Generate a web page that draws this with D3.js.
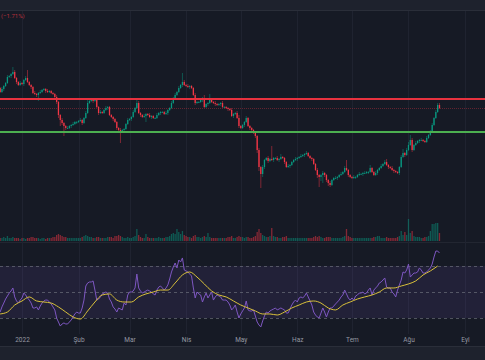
<!DOCTYPE html>
<html><head><meta charset="utf-8">
<script src="https://cdn.jsdelivr.net/npm/d3@7"></script>
<style>html,body{margin:0;padding:0;background:#161a25;overflow:hidden}svg{display:block}</style>
</head><body><svg id="c" width="485" height="360"></svg>
<script>
// ---------- DATA ----------
const startDate = "2021-12-20";
const firstOpen = 16.2;
const closes = [
15.8,16.1,16.4,16.7,17.3,17.4,17.6,17.8,17.2,16.8,
16.5,16.7,16.6,17.0,17.2,16.8,16.5,16.3,15.7,15.6,
15.5,15.7,15.8,16.0,16.1,15.9,15.8,15.9,15.7,15.6,
15.3,14.8,13.5,13.0,12.7,12.4,12.2,12.2,12.4,12.5,
12.6,12.8,12.8,12.9,13.0,12.7,13.2,13.7,14.7,14.9,
15.0,14.9,15.0,14.3,13.7,13.8,13.7,14.0,14.2,14.3,
13.5,13.3,13.1,12.8,12.2,12.0,11.9,12.0,12.1,12.6,
13.0,13.1,13.3,13.8,14.2,14.7,13.7,13.5,13.3,13.4,
13.6,13.5,13.3,13.4,13.2,13.2,13.5,13.7,13.8,13.8,
13.6,13.7,14.0,14.2,14.7,15.2,15.5,15.8,16.2,16.5,
16.8,16.5,16.4,16.3,16.4,16.2,15.5,14.7,14.8,14.8,
15.0,15.2,14.3,14.6,14.7,15.0,14.8,14.7,14.6,14.5,
14.6,14.7,14.3,14.3,14.2,14.1,14.0,13.4,13.6,13.7,
13.2,12.4,12.2,12.5,12.8,13.2,12.4,12.2,12.0,11.7,
11.4,10.0,8.3,7.6,8.3,9.0,9.2,8.9,9.1,9.0,
9.2,9.2,9.0,9.1,9.3,9.2,8.8,8.3,8.4,8.5,
8.8,9.0,9.1,9.2,9.3,9.4,9.5,9.6,9.7,9.4,
9.2,9.1,8.6,8.0,7.5,7.3,7.5,7.7,7.5,7.0,
6.7,6.5,7.0,7.2,7.2,7.3,7.5,7.6,7.8,8.2,
8.0,7.5,7.3,7.2,7.3,7.3,7.5,7.6,7.6,7.7,
7.7,7.8,7.8,8.2,7.8,7.5,7.7,8.0,8.2,8.4,
8.6,8.8,8.5,8.3,8.2,8.0,7.9,7.8,7.7,8.3,
9.3,9.7,9.5,10.0,10.5,11.0,10.0,10.5,10.7,10.9,
11.0,11.0,10.9,10.8,11.2,11.5,11.9,12.5,13.2,13.8,
14.5,14.2];
const upWick = [
.1,.2,.1,.1,.2,.1,.1,.5,.2,.1, .1,.2,.1,.1,.2,.8,.1,.1,.1,.2,
.1,.1,.2,.1,.1,.1,.2,.1,.1,.1, .1,.2,.1,.1,.2,.1,.1,.2,.1,.1,
.2,.1,.1,.1,.2,.1,.1,.2,.3,.1, .2,.1,.1,.1,.1,.2,.1,.1,.2,.1,
.1,.1,.1,.1,.1,.1,.2,.1,.1,.1, .2,.1,.1,.2,.1,.3,.2,.1,.1,.2,
.1,.1,.2,.1,.1,.1,.2,.1,.1,.1, .1,.2,.1,.1,.2,.1,.2,.1,.2,.1,
.9,.2,.1,.2,.1,.1,.1,.2,.1,.1, .2,.1,.3,.1,.1,.6,.1,.1,.2,.1,
.1,.1,.2,.1,.1,.1,.1,.2,.1,.1, .2,.3,.1,.1,.1,.2,.1,.1,.1,.1,
.1,.1,.2,.1,.2,.1,.1,.2,.1,1.3, .1,.1,.2,.1,.3,.1,.1,.1,.2,.1,
.1,.1,.2,.1,.1,.2,.1,.1,.2,.1, .1,.1,.1,.1,.2,.1,.1,.2,.1,.1,
.1,.2,.1,.1,.2,.1,.1,.2,.1,.2, .8,.1,.1,.1,.2,.1,.1,.2,.1,.1,
.2,.1,.1,.3,.1,.1,.2,.1,.1,.2, .1,.2,.3,.1,.1,.2,.1,.1,.1,.1,
.2,.4,.1,.2,.3,.5,.2,.1,.2,.1, .1,.2,.1,.1,.2,.1,.1,.2,.1,.2,
.2,.2];
const dnWick = [
.1,.1,.2,.1,.1,.1,.2,.1,.1,.2, .1,.1,.1,.2,.1,.1,.1,.2,.1,.1,
.2,.6,.1,.1,.1,.2,.1,.1,.1,.1, .1,.2,.3,.6,.2,1.0,.2,.1,.1,.2,
.1,.1,.2,.1,.1,.2,.1,.1,.1,.1, .1,.2,.1,.1,.2,.1,.1,.1,.1,.2,
.1,.1,.2,.1,.2,.1,1.2,.2,.1,.1, .1,.1,.2,.1,.1,.1,.1,.2,.1,.1,
.6,.1,.1,.2,.1,.1,.1,.1,.2,.1, .1,.1,.2,.1,.1,.1,.2,.1,.1,.1,
.2,.1,.1,.1,.2,.1,.1,.2,.1,.1, .1,.2,.1,.1,.2,.1,.1,.1,.2,.1,
.1,.2,.1,.1,.1,.2,.1,.1,.2,.1, .1,.2,.1,.1,.2,.1,.1,.2,.1,.1,
.2,.3,.4,1.4,.3,.2,.1,.2,.1,.1, .2,.1,.1,.2,.1,.1,.2,.1,.1,.2,
.1,.1,.1,.2,.1,.1,.1,.2,.1,.1, .1,.2,.1,.1,.3,1.0,.4,.8,.2,.2,
.3,.2,.1,.1,.1,.2,.1,.1,.1,.1, .1,.2,.1,.1,.1,.2,.1,.1,.1,.2,
.1,.1,.2,.1,.1,.1,.1,.2,.1,.1, .1,.1,.1,.2,.1,.1,.2,.1,.1,.2,
.1,.1,.2,.1,.1,.1,.2,.1,.1,.1, .2,.1,.1,.1,.1,.1,.1,.1,.1,.1,
.1,.1];
const volumes = [
12,12,16,12,20,12,12,16,12,12, 12,8,12,12,8,12,12,16,16,12,
12,12,8,12,12,8,12,12,12,16, 16,24,28,24,20,16,16,12,12,12,
12,12,12,12,12,16,20,24,20,16, 16,12,12,16,16,12,12,12,12,16,
16,16,12,20,20,24,20,16,12,12, 16,12,12,16,20,48,24,16,12,12,
28,16,12,12,12,12,12,16,12,12, 12,16,16,20,28,32,28,48,36,28,
40,24,20,16,16,12,20,24,16,16, 12,16,20,16,32,16,12,12,12,12,
12,12,12,12,12,16,16,20,12,12, 16,20,16,16,12,16,16,12,12,16,
20,36,48,32,24,20,16,16,20,52, 20,16,16,12,12,16,16,20,12,12,
12,12,12,12,12,12,12,12,12,12, 12,12,16,20,16,20,16,12,12,16,
16,16,12,12,12,12,12,12,16,20, 48,20,16,12,12,12,12,12,12,12,
12,12,12,12,12,16,16,20,20,12, 12,12,16,12,12,12,12,12,16,20,
40,24,36,24,88,32,40,20,16,16, 16,12,12,16,16,20,40,68,68,72,
72,32];
const rsi = [
34.6,38.5,41.5,44.6,46.9,49.2,50.8,53.1,46.2,43.1,
41.5,43.8,45.4,49.2,47.7,45.4,43.8,41.5,37.7,37.7,
38.5,36.2,39.2,41.5,43.1,43.8,43.8,42.3,40.8,38.5,
36.2,30.0,26.9,23.8,25.4,26.2,25.4,25.4,26.9,28.5,
30.8,33.1,34.6,33.8,33.8,37.7,43.8,54.6,56.9,57.7,
57.7,58.5,51.5,43.8,44.6,46.2,48.5,49.2,50.0,49.2,
44.6,42.3,38.5,36.9,34.6,37.7,36.9,36.2,41.5,40.0,
47.7,50.0,50.0,50.8,53.1,63.8,53.1,50.8,49.2,50.0,
50.8,51.5,50.8,50.0,48.5,47.7,51.5,53.8,54.6,53.1,
51.5,53.1,55.4,60.0,65.4,69.2,72.3,68.5,74.6,73.1,
76.2,66.9,66.2,65.4,63.8,62.3,53.1,45.4,50.0,48.5,
47.7,42.3,46.2,49.2,45.4,47.7,50.0,43.8,46.2,47.7,
46.9,46.2,43.8,43.8,43.8,42.3,40.0,36.2,37.7,40.0,
34.6,30.0,33.1,35.4,37.7,43.1,36.2,35.4,35.4,36.2,
31.5,26.9,24.6,23.1,27.7,31.5,34.6,33.8,35.4,36.2,
36.9,37.7,36.2,36.9,37.7,36.9,36.2,33.8,33.8,36.9,
40.0,42.3,43.8,42.3,45.4,46.2,45.4,46.9,49.2,46.2,
43.1,40.0,34.6,32.3,30.8,30.0,33.8,37.7,34.6,30.8,
34.6,37.7,37.7,39.2,40.8,42.3,43.8,46.2,47.7,51.5,
48.5,45.4,43.8,45.4,43.8,46.9,47.7,49.2,49.2,50.0,
48.5,49.2,51.5,53.1,47.7,51.5,53.1,54.6,56.9,57.7,
59.2,60.8,53.8,53.1,53.1,50.0,48.5,46.2,51.5,55.4,
59.2,65.4,64.6,66.9,71.5,61.5,63.1,64.6,64.6,65.4,
68.5,66.9,64.6,64.6,65.4,66.9,68.5,71.5,76.9,81.5,
81.5,80.0];
const maStep = 4; // one reading of the RSI average every 4 bars
const rsiMA = [
33.1,34.6,40.0,43.1,46.2,43.1,42.3,41.5,38.5,34.6,
30.8,29.2,35.4,42.3,47.7,48.5,43.8,42.3,42.3,46.2,
48.5,50.0,51.5,51.5,56.9,63.1,65.4,61.5,56.2,50.8,
47.7,46.2,43.1,40.0,37.7,35.4,33.1,33.1,32.3,34.6,
37.7,40.0,42.3,43.1,41.5,37.7,36.2,40.0,42.3,44.6,
46.2,47.7,50.0,53.1,53.1,54.6,56.2,58.5,63.1,66.2,
70.0];
const resistance = 15.1;
const support = 11.8;
const rsiLevels = [70, 50, 30];
const monthTicks = ["2022-01-01","2022-02-01","2022-03-01","2022-04-01","2022-05-01","2022-06-01","2022-07-01","2022-08-01","2022-09-01"];
const monthLabels = ["2022","Şub","Mar","Nis","May","Haz","Tem","Ağu","Eyl"];
const headerText = "(−1.71%)";

// ---------- DRAW ----------
const W = 485, H = 360;
const svg = d3.select("#c");
const up = "#089981", down = "#f23645";
const parse = d3.timeParse("%Y-%m-%d");
const t0 = parse(startDate);
const bars = closes.map((c, i) => {
  const o = i === 0 ? firstOpen : closes[i - 1];
  return { d: d3.timeDay.offset(t0, i), o, c,
    h: Math.max(o, c) + upWick[i], l: Math.min(o, c) - dnWick[i], v: volumes[i], r: rsi[i] };
});

const x = d3.scaleTime().domain([parse("2022-01-01"), parse("2022-09-01")]).range([22, 465]);
const y = d3.scaleLinear().domain([5, 20]).range([200, 50]);
const yv = d3.scaleLinear().domain([0, 100]).range([241, 216]);
const yr = d3.scaleLinear().domain([30, 70]).range([318, 266]);

// backgrounds
svg.append("rect").attr("width", W).attr("height", H).attr("fill", "#161a25");
svg.append("rect").attr("width", W).attr("height", 10).attr("fill", "#1e222d");
svg.append("rect").attr("y", 10).attr("width", W).attr("height", 1).attr("fill", "#2a2e39");
svg.append("rect").attr("y", 346).attr("width", W).attr("height", 14).attr("fill", "#1e222d");
svg.append("rect").attr("y", 346).attr("width", W).attr("height", 1).attr("fill", "#2a2e39");
svg.append("rect").attr("y", 242).attr("width", W).attr("height", 1).attr("fill", "#222631");

// vertical grid
const ticks = monthTicks.map(parse);
svg.append("g").selectAll("line").data(ticks).join("line")
  .attr("x1", d => Math.round(x(d)) + .5).attr("x2", d => Math.round(x(d)) + .5)
  .attr("y1", 11).attr("y2", 334).attr("stroke", "#1f2330").attr("stroke-width", 1);

// clip for panes
svg.append("clipPath").attr("id", "cp").append("rect").attr("x", 0).attr("y", 11).attr("width", W).attr("height", 231);
svg.append("clipPath").attr("id", "cr").append("rect").attr("x", 0).attr("y", 243).attr("width", W).attr("height", 91);

const pane = svg.append("g").attr("clip-path", "url(#cp)");
// volume
const bw = 1.3;
pane.append("g").selectAll("rect").data(bars).join("rect")
  .attr("x", d => x(d.d) - bw / 2).attr("width", bw)
  .attr("y", d => yv(d.v)).attr("height", d => yv(0) - yv(d.v))
  .attr("fill", d => d.c >= d.o ? up : down).attr("fill-opacity", 0.5);

// last price line
const last = bars[bars.length - 1];
pane.append("line").attr("x1", 0).attr("x2", W)
  .attr("y1", Math.round(y(last.c)) + .5).attr("y2", Math.round(y(last.c)) + .5)
  .attr("stroke", last.c >= last.o ? up : down).attr("stroke-opacity", 0.35).attr("stroke-dasharray", "1,1");

// candles
const cg = pane.append("g");
cg.selectAll("line").data(bars).join("line")
  .attr("x1", d => x(d.d)).attr("x2", d => x(d.d))
  .attr("y1", d => y(d.h)).attr("y2", d => y(d.l))
  .attr("stroke", d => d.c >= d.o ? up : down).attr("stroke-width", 0.6).attr("stroke-opacity", 0.8);
cg.selectAll("rect").data(bars).join("rect")
  .attr("x", d => x(d.d) - bw / 2).attr("width", bw)
  .attr("y", d => y(Math.max(d.o, d.c)))
  .attr("height", d => Math.max(0.8, Math.abs(y(d.o) - y(d.c))))
  .attr("fill", d => d.c >= d.o ? up : down);

// support / resistance
pane.append("line").attr("x1", 0).attr("x2", W).attr("y1", y(resistance)).attr("y2", y(resistance))
  .attr("stroke", "#e8323f").attr("stroke-width", 2);
pane.append("line").attr("x1", 0).attr("x2", W).attr("y1", y(support)).attr("y2", y(support))
  .attr("stroke", "#4caf50").attr("stroke-width", 2);

// header text
svg.append("text").attr("x", 1).attr("y", 18)
  .attr("font-family", "Roboto, sans-serif").attr("font-size", 6).attr("fill", "#b8303b")
  .text(headerText);

// RSI pane
const rp = svg.append("g").attr("clip-path", "url(#cr)");
rp.append("rect").attr("x", 0).attr("width", W).attr("y", yr(70)).attr("height", yr(30) - yr(70))
  .attr("fill", "#7e57c2").attr("fill-opacity", 0.12);
rp.append("g").selectAll("line").data(rsiLevels).join("line")
  .attr("x1", 0).attr("x2", W).attr("y1", d => Math.round(yr(d)) + .5).attr("y2", d => Math.round(yr(d)) + .5)
  .attr("stroke", "#787b86").attr("stroke-opacity", 0.6).attr("stroke-dasharray", "3,3");
rp.append("path").datum(bars)
  .attr("d", d3.line().x(d => x(d.d)).y(d => yr(d.r)))
  .attr("fill", "none").attr("stroke", "#7e57c2").attr("stroke-width", 1);
const ma = rsiMA.map((v, k) => ({ d: d3.timeDay.offset(t0, k * maStep), v }));
rp.append("path").datum(ma)
  .attr("d", d3.line().x(d => x(d.d)).y(d => yr(d.v)).curve(d3.curveMonotoneX))
  .attr("fill", "none").attr("stroke", "#d9c13a").attr("stroke-width", 1);

// time axis
const ax = svg.append("g").attr("transform", "translate(0,336)")
  .call(d3.axisBottom(x).tickValues(ticks).tickSize(0).tickFormat((d, i) => monthLabels[i]));
ax.select(".domain").remove();
ax.selectAll("text").attr("font-family", "Roboto, sans-serif").attr("font-size", 6.5).attr("fill", "#9598a1").attr("dy", "0.5em");
</script></body></html>
